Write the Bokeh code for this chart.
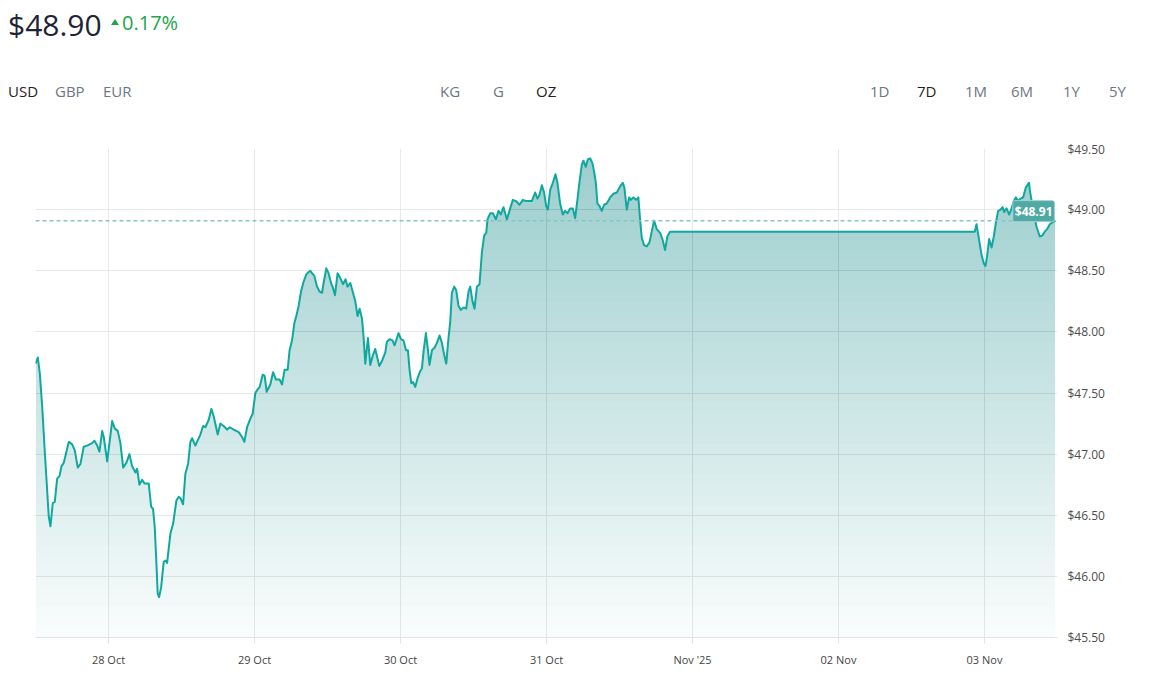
import numpy as np
import pandas as pd
from bokeh.plotting import figure
from bokeh.models import (Range1d, FixedTicker, NumeralTickFormatter, Span, Label, Div)
from bokeh.layouts import column
from bokeh.embed import file_html
from bokeh.resources import INLINE

# ---------------- data ----------------
start = "2025-10-27 12:00"
end = "2025-11-03 12:00"

hours = [
    0.00, 0.38, 0.71, 1.10, 1.48, 1.81, 2.18, 2.46, 2.84, 3.17,
    3.56, 3.94, 4.27, 4.65, 5.47, 6.03, 6.46, 6.95, 7.39, 7.93,
    8.49, 9.31, 9.69, 10.14, 10.51, 10.96, 11.22, 11.78, 12.21, 12.60,
    13.03, 13.52, 13.96, 14.41, 14.95, 15.44, 15.89, 16.43, 16.71, 17.08,
    17.53, 17.91, 18.61, 19.01, 19.33, 19.60, 19.88, 20.09, 20.32, 20.65,
    21.08, 21.36, 21.63, 22.18, 22.62, 23.16, 23.54, 23.82, 24.26, 24.64,
    25.08, 25.46, 25.74, 26.28, 27.10, 27.55, 27.93, 28.47, 28.91, 29.29,
    29.95, 30.39, 30.93, 31.49, 31.92, 32.58, 33.40, 33.95, 34.33, 34.78,
    35.32, 35.70, 36.14, 36.52, 36.85, 37.34, 37.67, 38.00, 38.60, 39.05,
    39.54, 40.13, 40.53, 40.95, 41.45, 41.77, 42.17, 42.55, 42.87, 43.25,
    43.65, 44.07, 44.52, 44.90, 45.17, 45.45, 45.83, 46.28, 46.70, 47.10,
    47.36, 47.80, 48.18, 48.58, 48.90, 49.23, 49.66, 50.10, 50.55, 50.97,
    51.30, 51.75, 52.19, 52.57, 52.95, 53.28, 53.67, 53.93, 54.21, 54.65,
    55.03, 55.47, 55.85, 56.13, 56.51, 56.95, 57.49, 57.77, 58.20, 58.69,
    59.02, 59.42, 59.68, 60.07, 60.50, 60.90, 61.22, 61.49, 61.77, 62.05,
    62.42, 62.80, 63.24, 63.52, 63.79, 64.18, 64.51, 64.77, 65.17, 65.59,
    65.99, 66.42, 66.81, 67.19, 67.52, 67.89, 68.17, 68.45, 68.83, 69.16,
    69.54, 69.93, 70.36, 70.80, 71.18, 71.46, 71.84, 72.17, 72.56, 72.99,
    73.38, 73.76, 74.09, 74.30, 74.74, 75.19, 75.68, 76.11, 76.50, 76.93,
    77.49, 78.03, 78.47, 79.02, 79.56, 80.12, 80.66, 81.59, 82.14, 82.51,
    82.84, 83.24, 83.61, 83.94, 84.22, 84.60, 85.04, 85.47, 85.80, 86.24,
    86.68, 87.06, 87.44, 87.88, 88.33, 88.71, 89.08, 89.41, 89.81, 90.07,
    90.46, 90.79, 91.17, 91.55, 91.83, 92.11, 92.37, 92.70, 93.09, 93.47,
    93.91, 94.46, 95.00, 95.56, 96.10, 96.54, 96.80, 97.20, 97.58, 97.86,
    98.28, 98.73, 99.10, 99.38, 99.66, 100.04, 100.48, 100.91, 101.30, 101.68,
    102.13, 102.67, 103.11, 103.49, 103.87, 104.31, 154.41, 154.69, 155.12, 155.51,
    155.89, 156.17, 156.43, 156.76, 157.16, 157.53, 157.86, 158.24, 158.64, 158.97,
    159.23, 159.63, 160.05, 160.45, 160.82, 161.15, 161.53, 161.92, 162.35, 162.79,
    163.17, 163.33, 163.45, 163.89, 164.55, 165.09, 165.54, 165.91, 166.29, 166.73,
    167.27, 167.67,
]

prices = [
    47.74, 47.79, 47.66, 47.39, 47.06, 46.79, 46.49, 46.41, 46.60, 46.61,
    46.80, 46.82, 46.90, 46.93, 47.10, 47.08, 47.03, 46.89, 46.92, 47.06,
    47.07, 47.09, 47.11, 47.07, 47.02, 47.19, 47.14, 46.94, 47.11, 47.27,
    47.21, 47.19, 47.09, 46.89, 46.93, 47.00, 46.90, 46.85, 46.88, 46.75,
    46.79, 46.76, 46.76, 46.57, 46.55, 46.40, 46.10, 45.86, 45.83, 45.91,
    46.12, 46.13, 46.11, 46.35, 46.43, 46.62, 46.65, 46.64, 46.59, 46.84,
    46.92, 47.10, 47.13, 47.07, 47.16, 47.23, 47.22, 47.28, 47.37, 47.31,
    47.16, 47.25, 47.23, 47.20, 47.22, 47.20, 47.18, 47.14, 47.10, 47.22,
    47.29, 47.33, 47.50, 47.53, 47.55, 47.65, 47.64, 47.51, 47.57, 47.67,
    47.61, 47.61, 47.57, 47.69, 47.69, 47.85, 47.93, 48.07, 48.13, 48.21,
    48.33, 48.41, 48.47, 48.49, 48.50, 48.48, 48.46, 48.37, 48.33, 48.32,
    48.40, 48.52, 48.48, 48.40, 48.36, 48.30, 48.48, 48.44, 48.39, 48.43,
    48.37, 48.40, 48.32, 48.25, 48.13, 48.19, 48.11, 47.96, 47.74, 47.95,
    47.73, 47.81, 47.86, 47.80, 47.72, 47.76, 47.83, 47.92, 47.94, 47.93,
    47.89, 47.95, 47.99, 47.94, 47.93, 47.85, 47.85, 47.69, 47.58, 47.59,
    47.55, 47.62, 47.68, 47.70, 47.84, 47.99, 47.85, 47.73, 47.85, 47.87,
    47.91, 47.97, 47.91, 47.81, 47.74, 47.95, 48.08, 48.32, 48.37, 48.34,
    48.21, 48.18, 48.20, 48.19, 48.33, 48.37, 48.25, 48.19, 48.37, 48.39,
    48.65, 48.79, 48.81, 48.92, 48.97, 48.97, 48.92, 48.99, 48.96, 49.02,
    48.92, 49.01, 49.08, 49.07, 49.04, 49.08, 49.07, 49.07, 49.14, 49.09,
    49.12, 49.20, 49.14, 49.03, 49.00, 49.16, 49.22, 49.29, 49.22, 49.05,
    48.96, 48.99, 48.97, 49.01, 49.01, 48.93, 49.08, 49.22, 49.37, 49.40,
    49.35, 49.41, 49.42, 49.38, 49.31, 49.22, 49.05, 49.03, 48.99, 49.04,
    49.05, 49.10, 49.13, 49.14, 49.19, 49.22, 49.18, 49.00, 49.10, 49.08,
    49.10, 49.08, 49.10, 48.92, 48.77, 48.71, 48.70, 48.73, 48.82, 48.91,
    48.84, 48.81, 48.75, 48.67, 48.78, 48.82, 48.82, 48.88, 48.75, 48.63,
    48.56, 48.54, 48.62, 48.76, 48.69, 48.78, 48.89, 48.99, 49.00, 49.02,
    48.98, 49.01, 48.96, 49.01, 49.07, 49.10, 49.07, 49.09, 49.10, 49.18,
    49.21, 49.22, 49.16, 49.03, 48.86, 48.78, 48.79, 48.82, 48.84, 48.88,
    48.90, 48.91,
]

day_ticks = ["2025-10-28", "2025-10-29", "2025-10-30", "2025-10-31",
             "2025-11-01", "2025-11-02", "2025-11-03"]
day_labels = ["28 Oct", "29 Oct", "30 Oct", "31 Oct", "Nov '25", "02 Nov", "03 Nov"]
price_ticks = [45.5, 46.0, 46.5, 47.0, 47.5, 48.0, 48.5, 49.0, 49.5]

last_price = 48.91
last_label = "$48.91"
header_price = "$48.90"
header_change = "0.17%"
currencies = ["USD", "GBP", "EUR"]
units = ["KG", "G", "OZ"]
periods = ["1D", "7D", "1M", "6M", "1Y", "5Y"]

# ---------------- helpers ----------------
EPOCH = pd.Timestamp("1970-01-01")


def to_ms(t):
    return (pd.Timestamp(t) - EPOCH) / pd.Timedelta(milliseconds=1)


times = pd.Timestamp(start) + pd.to_timedelta(hours, unit="h")
xs = np.array([(t - EPOCH) / pd.Timedelta(milliseconds=1) for t in times])
ys = np.array(prices, dtype=float)


def clip_layer(x, y, level):
    ox, oy = [], []
    for i in range(len(x)):
        if i > 0:
            y0, y1 = y[i - 1], y[i]
            if (y0 - level) * (y1 - level) < 0:
                f = (level - y0) / (y1 - y0)
                ox.append(x[i - 1] + f * (x[i] - x[i - 1]))
                oy.append(level)
        ox.append(x[i])
        oy.append(max(y[i], level))
    return ox, oy


FONT = "Open Sans"
LINE = "#0fa89e"
Y0, Y1 = price_ticks[0], price_ticks[-1]
PAD = 8  # page margin emulation

# ---------------- figure ----------------
p = figure(width=1144, height=529, x_axis_type="datetime", y_axis_location="right",
           x_range=Range1d(to_ms(start), to_ms(end)), y_range=Range1d(Y0, Y1),
           output_backend="svg", toolbar_location=None, title=None,
           min_border_left=27 + PAD, min_border_right=87, min_border_top=8, min_border_bottom=32)
p.outline_line_color = None
p.background_fill_color = "white"
p.border_fill_color = "white"

tick_ms = [to_ms(d) for d in day_ticks]
xt = FixedTicker(ticks=tick_ms)
yt = FixedTicker(ticks=price_ticks)
p.xaxis.ticker = xt
p.yaxis.ticker = yt
p.xgrid.ticker = xt
p.ygrid.ticker = yt
p.xaxis.major_label_overrides = {t: lab for t, lab in zip(tick_ms, day_labels)}
p.yaxis.formatter = NumeralTickFormatter(format="$0.00")

for g in (p.xgrid, p.ygrid):
    g.grid_line_color = "#e9e9e9"
    g.grid_line_width = 1

p.xaxis.axis_line_color = "#e3e3e3"
p.xaxis.major_tick_line_color = "#e3e3e3"
p.xaxis.major_tick_out = 6
p.xaxis.major_tick_in = 0
p.xaxis.minor_tick_line_color = None
p.xaxis.major_label_standoff = 8
p.xaxis.major_label_text_font = FONT
p.xaxis.major_label_text_font_size = "11px"
p.xaxis.major_label_text_color = "#444444"

p.yaxis.axis_line_color = None
p.yaxis.major_tick_line_color = None
p.yaxis.minor_tick_line_color = None
p.yaxis.major_tick_out = 0
p.yaxis.major_tick_in = 0
p.yaxis.major_label_standoff = 10
p.yaxis.major_label_text_font = FONT
p.yaxis.major_label_text_font_size = "12px"
p.yaxis.major_label_text_color = "#4d4d4d"

# gradient fill built from stacked translucent layers
base = "#008c82"
A_top, A_bot = 0.34, 0.02
levels = np.linspace(Y0, Y1, 49)
prev = 0.0
for k in range(len(levels) - 1):
    mid = (levels[k] + levels[k + 1]) / 2
    A = A_bot + (A_top - A_bot) * (mid - Y0) / (Y1 - Y0)
    a = 1 - (1 - A) / (1 - prev)
    prev = A
    lx, ly = clip_layer(xs, ys, levels[k])
    p.varea(x=lx, y1=[levels[k]] * len(lx), y2=ly, fill_color=base, fill_alpha=a)

p.add_layout(Span(location=last_price, dimension="width", line_color="#86c6c1",
                  line_width=1.5, line_dash="4 3"))

p.line(xs, ys, line_color=LINE, line_width=2, line_join="round")

p.add_layout(Label(x=xs[-1], y=last_price, text=last_label, x_offset=-1, y_offset=-1,
                   text_align="right", text_baseline="bottom",
                   text_font=FONT, text_font_size="12px", text_font_style="bold",
                   text_color="white", background_fill_color="#4faaa3",
                   border_line_color="#9fd3cf", border_line_width=1,
                   padding=2, border_radius=2))

# ---------------- header ----------------
def item(text, left, top, size, color, weight=400):
    return (f'<div style="position:absolute;left:{left + PAD}px;top:{top + PAD}px;font-size:{size}px;'
            f'line-height:1;color:{color};font-weight:{weight};font-family:\'Open Sans\';'
            f'white-space:nowrap;">{text}</div>')

DARK, GREY, GREEN = "#1f1f1f", "#6d7682", "#20a549"
parts = [item(header_price, 0, 2, 30, "#1b2536"),
         (f'<div style="position:absolute;left:{103 + PAD}px;top:{11 + PAD}px;width:0;height:0;'
          'border-left:4px solid transparent;border-right:4px solid transparent;'
          f'border-bottom:6px solid {GREEN};"></div>'),
         item(header_change, 114, 5, 20, GREEN)]
for lab, left in zip(currencies, [0, 47, 95]):
    parts.append(item(lab, left, 76, 15, DARK if lab == "USD" else GREY))
for lab, left in zip(units, [432, 485, 528]):
    parts.append(item(lab, left, 76, 15, DARK if lab == "OZ" else GREY))
for lab, left in zip(periods, [862, 909, 957, 1003, 1055, 1101]):
    parts.append(item(lab, left, 76, 15, DARK if lab == "7D" else GREY))

header = Div(text='<div style="position:relative;width:1144px;height:140px;">' + "".join(parts) + "</div>",
             width=1144, height=140, margin=0)

layout = column(header, p, spacing=0, margin=0)
open("out.html", "w").write(file_html(layout, INLINE))
